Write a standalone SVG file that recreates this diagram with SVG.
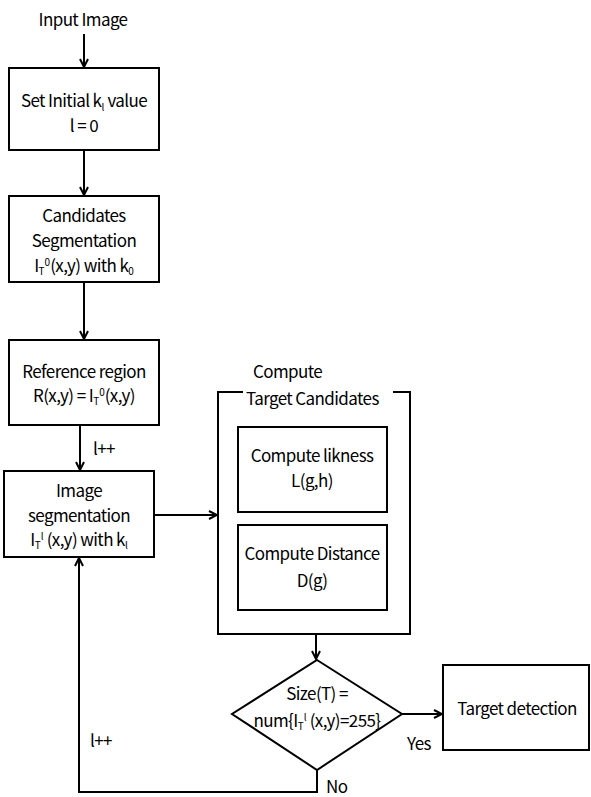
<svg xmlns="http://www.w3.org/2000/svg" width="591" height="797" viewBox="0 0 591 797">
<defs>
<marker id="ah" viewBox="0 0 10 10" refX="9" refY="5" markerWidth="10" markerHeight="10" markerUnits="userSpaceOnUse" orient="auto">
<path d="M1,1 L9,5 L1,9" fill="none" stroke="#000" stroke-width="2"/>
</marker>
<style>
.b{fill:#fff;stroke:#000;stroke-width:2}
.c{fill:none;stroke:#000;stroke-width:2}
text{font-family:"Noto Sans CJK KR","Noto Sans",sans-serif;font-size:17px;letter-spacing:-0.6px;fill:#000}
.m{text-anchor:middle}
.s{font-size:10px;letter-spacing:0}
</style>
</defs>
<rect width="591" height="797" fill="#fff"/>
<g id="connectors">
<line class="c" x1="84" y1="34" x2="84" y2="67" marker-end="url(#ah)"/>
<line class="c" x1="84" y1="150" x2="84" y2="195" marker-end="url(#ah)"/>
<line class="c" x1="84" y1="282" x2="84" y2="339" marker-end="url(#ah)"/>
<line class="c" x1="80" y1="425" x2="80" y2="470" marker-end="url(#ah)"/>
<line class="c" x1="154" y1="515" x2="217" y2="515" marker-end="url(#ah)"/>
<line class="c" x1="316" y1="634" x2="316" y2="659" marker-end="url(#ah)"/>
<line class="c" x1="402" y1="714" x2="442" y2="714" marker-end="url(#ah)"/>
<polyline class="c" points="317,770 317,792 79,792 79,558" marker-end="url(#ah)"/>
<text x="93" y="455">l++</text>
<text x="90" y="747">l++</text>
<text x="407" y="750">Yes</text>
<text x="326" y="793">No</text>
</g>
<g id="input"><text class="m" x="83" y="26">Input Image</text></g>
<g id="init">
<rect class="b" x="9" y="68" width="150" height="82"/>
<text class="m" x="84" y="107">Set Initial k<tspan class="s" dy="4">l</tspan><tspan dy="-4"> value</tspan></text>
<text class="m" x="84" y="132">l = 0</text>
</g>
<g id="cand">
<rect class="b" x="9" y="196" width="150" height="86"/>
<text class="m" x="84" y="222">Candidates</text>
<text class="m" x="84" y="247">Segmentation</text>
<text class="m" x="84" y="272">I<tspan class="s" dy="3">T</tspan><tspan class="s" dy="-9">0</tspan><tspan dy="6">(x,y) with k</tspan><tspan class="s" dy="3">0</tspan></text>
</g>
<g id="ref">
<rect class="b" x="9" y="340" width="150" height="85"/>
<text class="m" x="84" y="378">Reference region</text>
<text class="m" x="84" y="402">R(x,y) = I<tspan class="s" dy="3">T</tspan><tspan class="s" dy="-9">0</tspan><tspan dy="6">(x,y)</tspan></text>
</g>
<g id="seg">
<rect class="b" x="4" y="471" width="150" height="86"/>
<text class="m" x="79" y="497">Image</text>
<text class="m" x="79" y="522">segmentation</text>
<text class="m" x="79" y="546">I<tspan class="s" dy="3">T</tspan><tspan class="s" dy="-9">l</tspan><tspan dy="6"> (x,y) with k</tspan><tspan class="s" dy="3">l</tspan></text>
</g>
<g id="compute">
<path class="c" d="M243,392 H218 V634 H410 V392 H393"/>
<text x="253" y="378">Compute</text>
<text x="246" y="405">Target Candidates</text>
</g>
<g id="likness">
<rect class="b" x="238" y="427" width="149" height="85"/>
<text class="m" x="312" y="462">Compute likness</text>
<text class="m" x="312" y="487">L(g,h)</text>
</g>
<g id="distance">
<rect class="b" x="238" y="525" width="149" height="85"/>
<text class="m" x="312" y="560">Compute Distance</text>
<text class="m" x="312" y="587">D(g)</text>
</g>
<g id="decision">
<polygon class="b" points="317,660 402,714 317,770 232,714"/>
<text class="m" x="317" y="700">Size(T) =</text>
<text class="m" x="317" y="727">num{I<tspan class="s" dy="3">T</tspan><tspan class="s" dy="-9">l</tspan><tspan dy="6"> (x,y)=255}</tspan></text>
</g>
<g id="target">
<rect class="b" x="443" y="665" width="146" height="85"/>
<text class="m" x="517" y="715">Target detection</text>
</g>
</svg>
